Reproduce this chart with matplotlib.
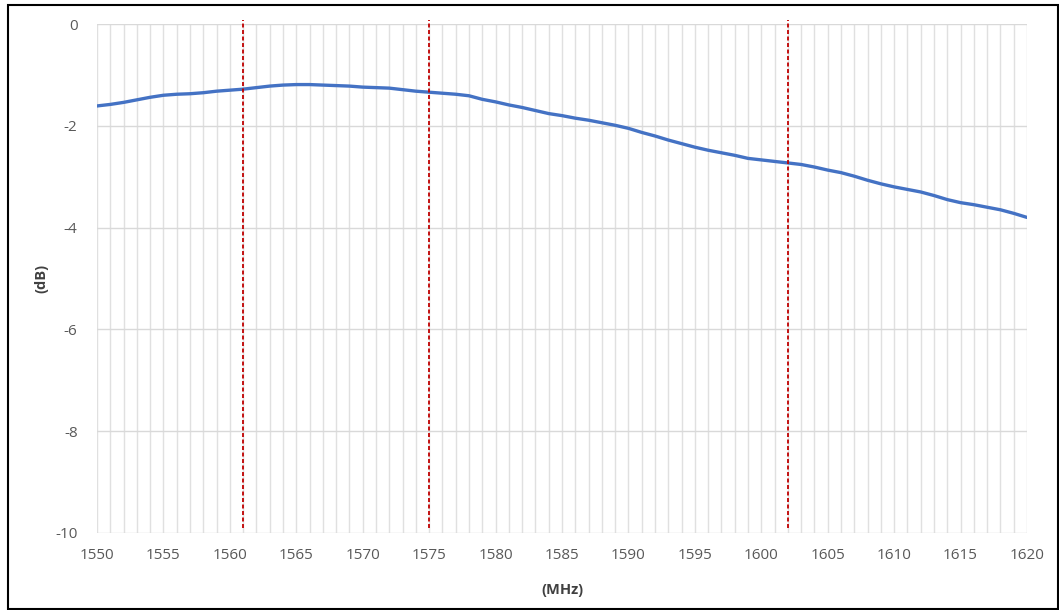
import matplotlib
matplotlib.use("Agg")
import matplotlib.pyplot as plt
from matplotlib.patches import Rectangle
import numpy as np

freq_mhz = list(range(1550, 1621))
gain_db = [
    -1.61, -1.58, -1.54, -1.49, -1.44, -1.40, -1.38, -1.37, -1.35, -1.32,
    -1.30, -1.28, -1.25, -1.22, -1.20, -1.19, -1.19, -1.20, -1.21, -1.22,
    -1.24, -1.25, -1.26, -1.29, -1.32, -1.34, -1.36, -1.38, -1.41, -1.48,
    -1.53, -1.59, -1.64, -1.70, -1.76, -1.80, -1.85, -1.89, -1.94, -1.99,
    -2.05, -2.13, -2.20, -2.28, -2.35, -2.42, -2.48, -2.53, -2.58, -2.64,
    -2.67, -2.70, -2.73, -2.76, -2.81, -2.87, -2.92, -2.99, -3.07, -3.14,
    -3.20, -3.25, -3.30, -3.37, -3.45, -3.51, -3.55, -3.60, -3.65, -3.72,
    -3.80,
]
marker_freqs = [1561, 1575, 1602]
marker_top = 0.08
marker_bottom = -9.9
x_ticks = list(range(1550, 1621, 5))
y_ticks = [0, -2, -4, -6, -8, -10]

plt.rcParams['font.family'] = ['Open Sans', 'DejaVu Sans']

fig = plt.figure(figsize=(10.59, 6.10), dpi=100)
ax = fig.add_axes([97/1059, 1 - 533/610, (1027-97)/1059, (533-24)/610])

ax.set_xlim(1550, 1620)
ax.set_ylim(-10, 0)

# grid
ax.set_xticks(x_ticks)
ax.set_xticks(list(range(1550, 1621)), minor=True)
ax.set_yticks(y_ticks)
ax.grid(True, which='both', axis='x', color='#e0e0e0', linewidth=1.0)
ax.grid(True, which='major', axis='y', color='#d9d9d9', linewidth=1.0)
ax.set_axisbelow(True)
for s in ax.spines.values():
    s.set_visible(False)

ax.tick_params(axis='both', which='both', length=0, colors='#595959', labelsize=11)
ax.tick_params(axis='x', pad=11)
ax.tick_params(axis='y', pad=14)
ax.set_yticklabels([str(v) for v in y_ticks])

ax.plot(freq_mhz, gain_db, color='#4472C4', linewidth=2.4, solid_capstyle='round', zorder=3)

ax.vlines(marker_freqs, marker_bottom, marker_top, colors='#c00000',
          linestyles=(0, (2.2, 1.4)), linewidth=1.3, clip_on=False, zorder=4)

ax.set_xlabel('(MHz)', fontsize=10.5, fontweight='bold', color='#404040', labelpad=14)
ax.set_ylabel('(dB)', fontsize=10.5, fontweight='bold', color='#404040', labelpad=5)

# outer border
fig.patches.append(Rectangle((8/1059, 1/610), (1058-8)/1059, (604)/610,
                             transform=fig.transFigure, fill=False,
                             edgecolor='black', linewidth=1.5))

fig.savefig('out.png', dpi=100)
